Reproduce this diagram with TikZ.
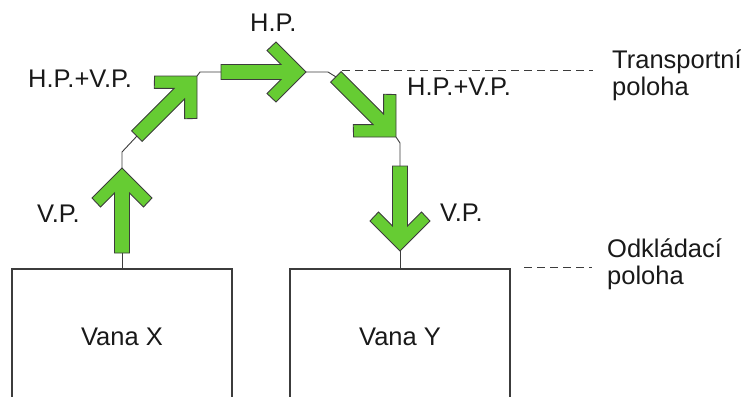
\documentclass[tikz,border=0pt]{standalone}
\usepackage{fontspec}
\setmainfont{Liberation Sans}
\definecolor{arrowgreen}{RGB}{102,204,51}
\definecolor{inkgray}{RGB}{60,60,60}
\definecolor{textblack}{RGB}{25,25,25}
\tikzset{
  % thick green arrow with a chevron head; tip at the origin, pointing along +x
  greenarrow/.pic={
    \filldraw[fill=arrowgreen, draw=inkgray, line width=0.9pt, line join=miter]
      (0,0) -- (-30,30) -- (-39,21.5) -- (-25,7.5) -- (-85,7.5) -- (-85,-7.5)
      -- (-25,-7.5) -- (-39,-21.5) -- (-30,-30) -- cycle;
    \coordinate (-tip) at (0,0);
    \coordinate (-tail) at (-85,0);
  },
  tank/.style={draw=inkgray, line width=1.3pt, minimum width=220pt,
    minimum height=136pt, inner sep=0pt, text=textblack,
    font=\fontsize{25.5}{28}\selectfont},
  wire/.style={draw=inkgray, line width=0.9pt},
  guide/.style={draw=inkgray, line width=0.9pt, dash pattern=on 8pt off 5pt},
  lbl/.style={anchor=base west, inner sep=0pt, text=textblack,
    font=\fontsize{25.5}{27.5}\selectfont}
}
\begin{document}
\begin{tikzpicture}[x=1pt, y=-1pt]
  \useasboundingbox (0,0) rectangle (741,396);
  \clip (0,0) rectangle (741,396);

  % the two tanks
  \node[tank] (vanaX) at (122,337) {Vana X};
  \node[tank] (vanaY) at (400,337) {Vana Y};

  % movement steps
  \pic[rotate=90]  (A1) at (122,168) {greenarrow};
  \pic[rotate=45]  (A2) at (197,76)  {greenarrow};
  \pic[rotate=0]   (A3) at (306,72)  {greenarrow};
  \pic[rotate=-45] (A4) at (396,137) {greenarrow};
  \pic[rotate=-90] (A5) at (400,251) {greenarrow};

  % thin links between the steps
  \draw[wire] (vanaX.north) -- (A1-tail);
  \draw[wire] (A1-tip) -- ++(0,-16) -- (A2-tail);
  \draw[wire] (A2-tip) -- ++(3,-4) -- (A3-tail);
  \draw[wire] (A3-tip) -- ++(22,0) -- (A4-tail);
  \draw[wire] (A4-tip) -- ++(4,6) -- (A5-tail);
  \draw[wire] (A5-tip) -- (vanaY.north);

  % level guides
  \coordinate (topGuideA) at (342,70);
  \coordinate (topGuideB) at (593,70);
  \coordinate (lowGuideA) at (524,267);
  \coordinate (lowGuideB) at (592,267);
  \draw[guide] (topGuideA) -- (topGuideB);
  \draw[guide] (lowGuideA) -- (lowGuideB);

  % labels
  \node[lbl] (hpTop)     at (250,32)  {H.P.};
  \node[lbl] (hpvpLeft)  at (28,88)   {H.P.+V.P.};
  \node[lbl] (vpLeft)    at (37,222)  {V.P.};
  \node[lbl] (hpvpRight) at (407,95)  {H.P.+V.P.};
  \node[lbl] (vpRight)   at (440,221) {V.P.};
  \node[lbl] (transport) at (612,68)
    {\begin{tabular}[t]{@{}l@{}}Transportní\\poloha\end{tabular}};
  \node[lbl] (odklad)    at (607,257)
    {\begin{tabular}[t]{@{}l@{}}Odkládací\\poloha\end{tabular}};
\end{tikzpicture}
\end{document}
